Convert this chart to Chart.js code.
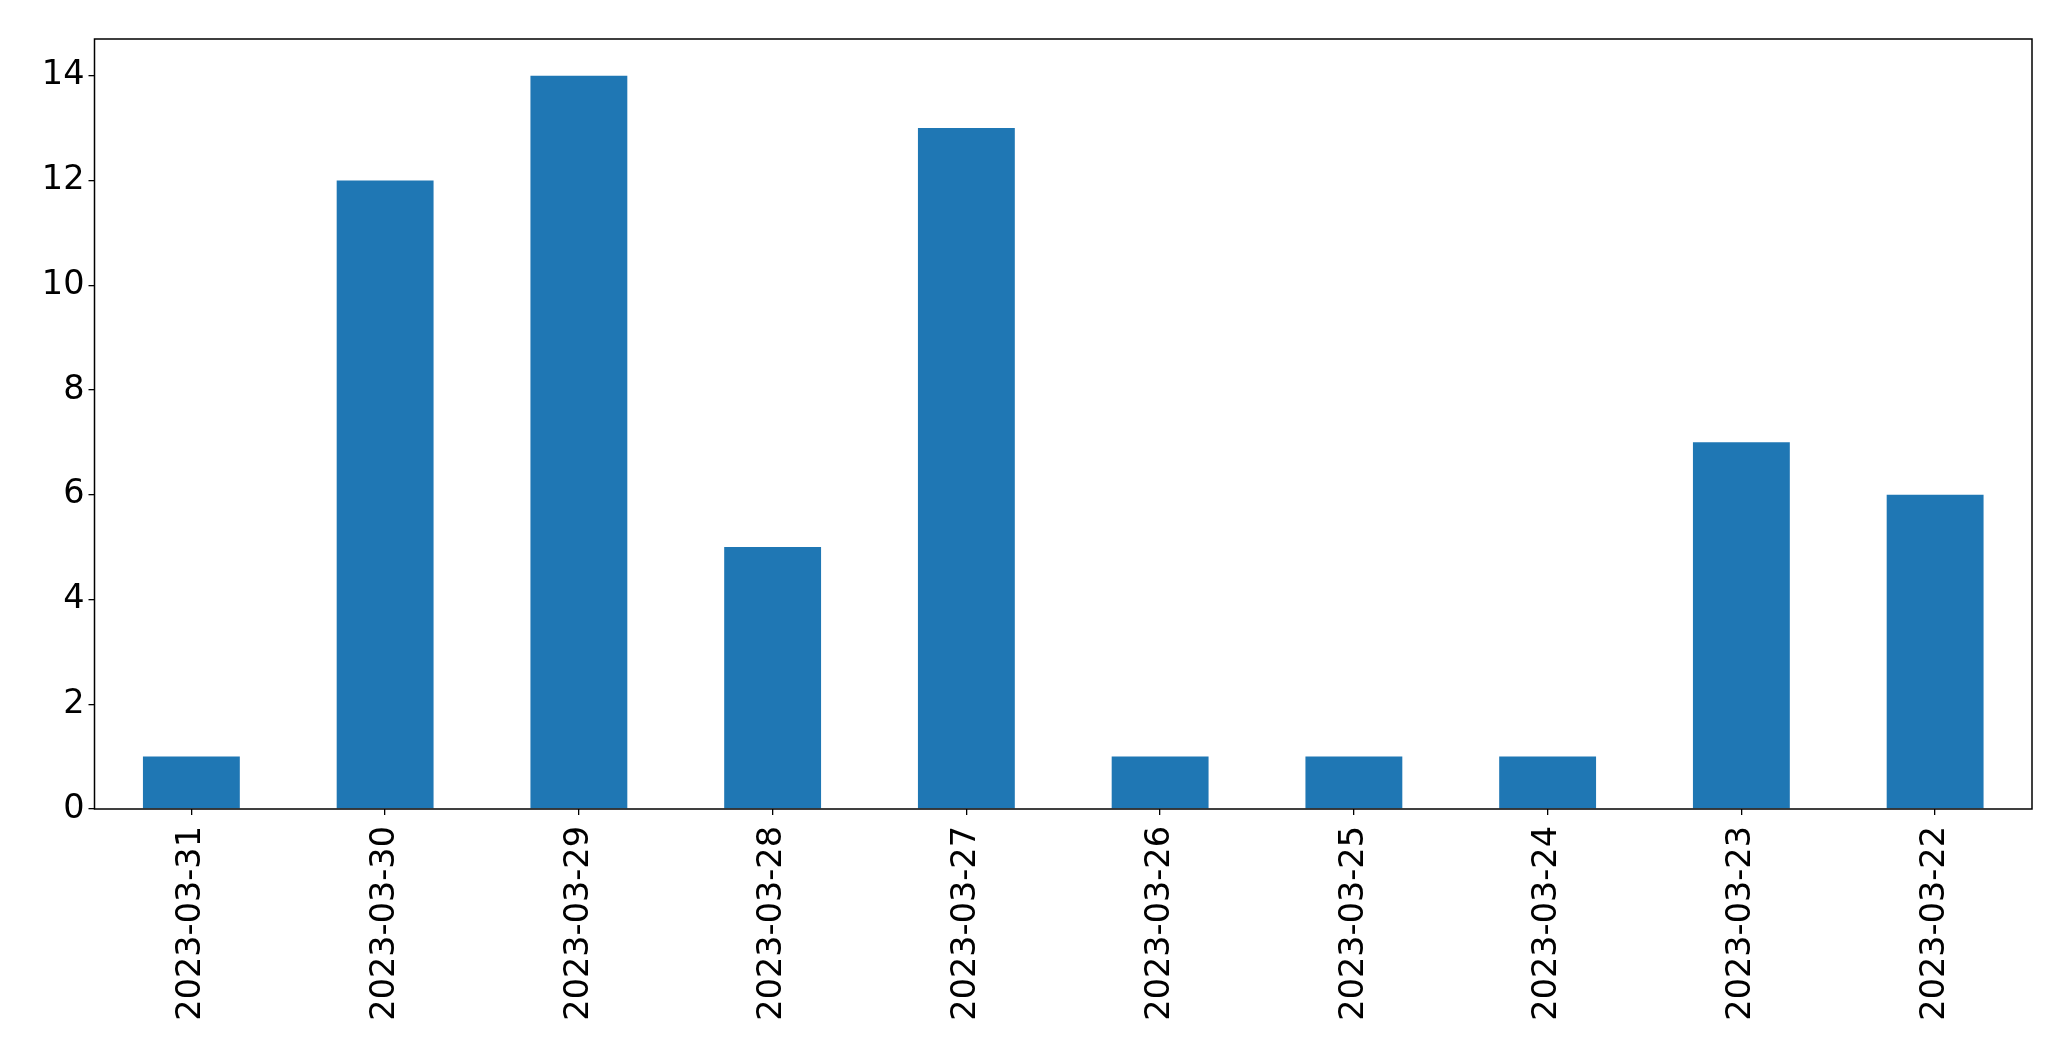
<!DOCTYPE html>
<html>
<head>
<meta charset="utf-8">
<script src="https://cdn.jsdelivr.net/npm/chart.js@4"></script>
<style>
  html, body { margin: 0; padding: 0; background: #fff; }
  #wrap { width: 2071px; height: 1061px; }
</style>
</head>
<body>
<div id="wrap"><canvas id="chart" width="2071" height="1061"></canvas></div>
<script>
const dates = ['2023-03-31', '2023-03-30', '2023-03-29', '2023-03-28', '2023-03-27',
               '2023-03-26', '2023-03-25', '2023-03-24', '2023-03-23', '2023-03-22'];
const counts = [1, 12, 14, 5, 13, 1, 1, 1, 7, 6];
const yTicks = [0, 2, 4, 6, 8, 10, 12, 14];

const frame = {
    id: 'frame',
    afterDraw(chart) {
        const a = chart.chartArea;
        const c = chart.ctx;
        c.save();
        c.strokeStyle = '#000';
        c.lineWidth = 1.5;
        c.strokeRect(a.left, a.top, a.right - a.left, a.bottom - a.top);
        c.restore();
    }
};

const ctx = document.getElementById('chart').getContext('2d');

const chart = new Chart(ctx, {
    type: 'bar',
    data: {
        labels: dates,
        datasets: [{
            data: counts,
            backgroundColor: '#1f77b4',
            borderWidth: 0,
            categoryPercentage: 1.0,
            barPercentage: 0.5
        }]
    },
    options: {
        responsive: false,
        animation: false,
        layout: { padding: { top: 39, right: 39, left: 0, bottom: 0 } },
        plugins: {
            legend: { display: false },
            tooltip: { enabled: false }
        },
        scales: {
            x: {
                grid: { offset: false, drawOnChartArea: false, drawTicks: true, tickLength: 6, color: '#000', lineWidth: 1.3 },
                border: { display: false },
                ticks: {
                    color: '#000',
                    font: { family: 'DejaVu Sans', size: 33.5 },
                    minRotation: 90,
                    maxRotation: 90,
                    padding: 11,
                    autoSkip: false
                },
                afterFit(scale) { scale.height = 252; }
            },
            y: {
                min: 0,
                max: 14.7,
                grid: { drawOnChartArea: false, drawTicks: true, tickLength: 6, color: '#000', lineWidth: 1.3 },
                border: { display: false },
                afterBuildTicks(scale) {
                    scale.ticks = yTicks.map(v => ({ value: v }));
                },
                ticks: {
                    color: '#000',
                    font: { family: 'DejaVu Sans', size: 33.5 },
                    padding: 4
                },
                afterFit(scale) { scale.width = 94.5; }
            }
        }
    },
    plugins: [frame]
});
</script>
</body>
</html>
